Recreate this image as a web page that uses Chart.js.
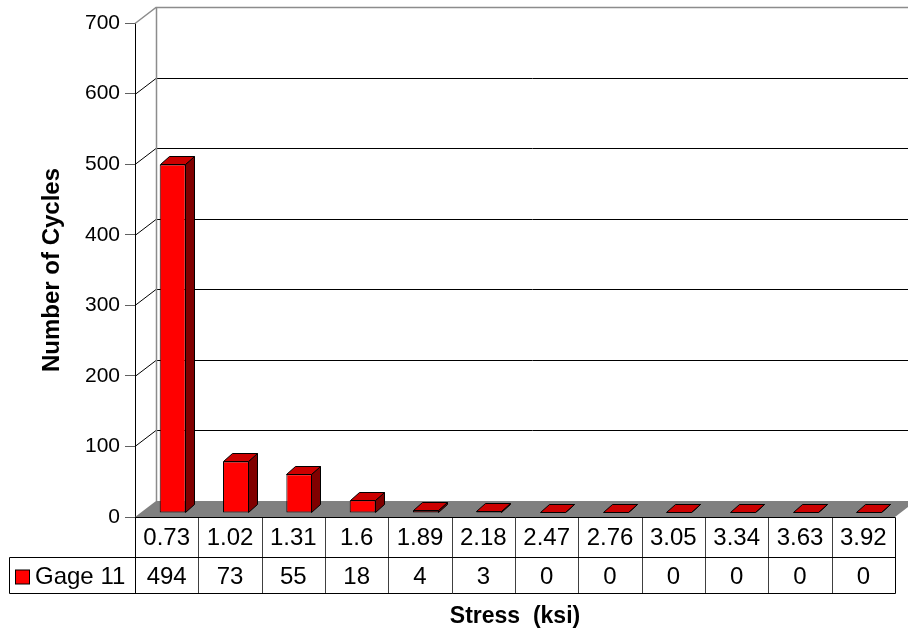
<!DOCTYPE html>
<html>
<head>
<meta charset="utf-8">
<script src="https://cdn.jsdelivr.net/npm/chart.js@4/dist/chart.umd.min.js"></script>
<style>
  html, body { margin: 0; padding: 0; background: #fff; }
  #wrap { width: 908px; height: 635px; position: relative; }
</style>
</head>
<body>
<div id="wrap"><canvas id="c" width="908" height="635"></canvas></div>
<script>
// Stress ranges (ksi) and cycle counts recorded by Gage 11
const stressLabels = ['0.73', '1.02', '1.31', '1.6', '1.89', '2.18', '2.47', '2.76', '3.05', '3.34', '3.63', '3.92'];
const gage11Cycles = [494, 73, 55, 18, 4, 3, 0, 0, 0, 0, 0, 0];
const seriesName = 'Gage 11';
const xTitle = 'Stress  (ksi)';
const yTitle = 'Number of Cycles';
const yMin = 0, yMax = 700, yStep = 100;

const FONT = "'Liberation Sans', Arial, sans-serif";

// 3-D box geometry (pixels)
const WALL_DX = 21, WALL_DY = -16;     // depth of the back wall behind the front axis
const BAR_DX = 6, BAR_DY = -4;         // columns stand this far back on the floor
const BAR_DEPTH_X = 9, BAR_DEPTH_Y = -8; // thickness of each column

// data-table geometry
const ROW1_H = 40, ROW2_H = 36, LEGEND_LEFT = 9;
const X_TITLE_Y = 617;

const box3d = {
  id: 'box3d',
  beforeDatasetsDraw(chart) {
    const { ctx, chartArea: a, scales: { y } } = chart;
    const y0 = y.getPixelForValue(yMin);
    const yTop = y.getPixelForValue(yMax);
    ctx.save();
    // gridlines on the back wall, joined to the front axis ticks
    y.ticks.forEach(t => {
      if (t.value === yMin) return;
      const py = Math.round(y.getPixelForValue(t.value)) + 0.5;
      const top = t.value === yMax;
      ctx.strokeStyle = top ? '#8c8c8c' : '#000';
      ctx.lineWidth = top ? 1.5 : 1;
      ctx.beginPath();
      ctx.moveTo(a.left, py);
      ctx.lineTo(a.left + WALL_DX, py + WALL_DY);
      ctx.lineTo(a.right + WALL_DX + 20, py + WALL_DY);
      ctx.stroke();
    });
    // left edge of the back wall
    ctx.strokeStyle = '#8c8c8c';
    ctx.lineWidth = 1.5;
    ctx.beginPath();
    ctx.moveTo(a.left + WALL_DX + 0.5, yTop + WALL_DY);
    ctx.lineTo(a.left + WALL_DX + 0.5, y0 + WALL_DY);
    ctx.stroke();
    // floor
    ctx.fillStyle = '#808080';
    ctx.beginPath();
    ctx.moveTo(a.left, y0);
    ctx.lineTo(a.right, y0);
    ctx.lineTo(a.right + WALL_DX, y0 + WALL_DY);
    ctx.lineTo(a.left + WALL_DX, y0 + WALL_DY);
    ctx.closePath();
    ctx.fill();
    ctx.restore();
    // columns are drawn set back onto the floor
    ctx.save();
    ctx.translate(BAR_DX, BAR_DY);
  },
  afterDatasetsDraw(chart) {
    const ctx = chart.ctx;
    ctx.lineWidth = 1;
    ctx.strokeStyle = '#000';
    chart.getDatasetMeta(0).data.forEach(bar => {
      const { x, y, base, width } = bar.getProps(['x', 'y', 'base', 'width'], true);
      const l = Math.round(x - width / 2) + 0.5, r = Math.round(x + width / 2) - 0.5;
      const t = Math.round(y) + 0.5, b = Math.round(base) - 0.5;
      const top = Math.min(t, b);
      // side face
      ctx.fillStyle = '#800000';
      ctx.beginPath();
      ctx.moveTo(r, top);
      ctx.lineTo(r + BAR_DEPTH_X, top + BAR_DEPTH_Y);
      ctx.lineTo(r + BAR_DEPTH_X, b + BAR_DEPTH_Y);
      ctx.lineTo(r, b);
      ctx.closePath();
      ctx.fill();
      ctx.stroke();
      // top face
      ctx.fillStyle = '#cc0000';
      ctx.beginPath();
      ctx.moveTo(l, top);
      ctx.lineTo(r, top);
      ctx.lineTo(r + BAR_DEPTH_X, top + BAR_DEPTH_Y);
      ctx.lineTo(l + BAR_DEPTH_X, top + BAR_DEPTH_Y);
      ctx.closePath();
      ctx.fill();
      ctx.stroke();
    });
    ctx.restore();
  },
  afterDraw(chart) {
    const { ctx, chartArea: a, scales: { x, y } } = chart;
    const n = stressLabels.length;
    const colW = (a.right - a.left) / n;
    const r1 = Math.round(y.getPixelForValue(yMin)) + 0.5;
    const r2 = r1 + ROW1_H, r3 = r2 + ROW2_H;
    const L = Math.round(a.left) + 0.5, R = Math.round(a.right) + 0.5;
    ctx.save();
    // inner column separators
    ctx.strokeStyle = '#404040';
    ctx.lineWidth = 1;
    for (let i = 1; i < n; i++) {
      const px = Math.round(x.getPixelForValue(i) - colW / 2) + 0.5;
      ctx.beginPath(); ctx.moveTo(px, r1); ctx.lineTo(px, r3); ctx.stroke();
    }
    // outer borders and row lines
    ctx.strokeStyle = '#000';
    ctx.beginPath();
    ctx.moveTo(L, r1); ctx.lineTo(R, r1);
    ctx.moveTo(LEGEND_LEFT + 0.5, r2); ctx.lineTo(R, r2);
    ctx.moveTo(LEGEND_LEFT + 0.5, r3); ctx.lineTo(R, r3);
    ctx.moveTo(L, r1); ctx.lineTo(L, r3);
    ctx.moveTo(R, r1); ctx.lineTo(R, r3);
    ctx.moveTo(LEGEND_LEFT + 0.5, r2); ctx.lineTo(LEGEND_LEFT + 0.5, r3);
    ctx.stroke();
    // cell text
    ctx.fillStyle = '#000';
    ctx.font = '24px ' + FONT;
    ctx.textAlign = 'center';
    ctx.textBaseline = 'middle';
    stressLabels.forEach((lab, i) => {
      const cx = x.getPixelForValue(i);
      ctx.fillText(lab, cx, r1 + ROW1_H / 2 + 1);
      ctx.fillText(String(gage11Cycles[i]), cx, r2 + ROW2_H / 2 + 2);
    });
    // legend key
    const ky = r2 + ROW2_H / 2 + 2;
    ctx.fillStyle = '#ff0000';
    ctx.fillRect(15.5, ky - 7.5, 14, 14);
    ctx.strokeRect(15.5, ky - 7.5, 14, 14);
    ctx.fillStyle = '#000';
    ctx.textAlign = 'left';
    ctx.fillText(seriesName, 35, ky);
    // category axis title, centred under the plot
    ctx.textAlign = 'center';
    ctx.font = 'bold 23px ' + FONT;
    ctx.fillText(xTitle, (a.left + a.right) / 2, X_TITLE_Y);
    ctx.restore();
  }
};

new Chart(document.getElementById('c'), {
  type: 'bar',
  data: {
    labels: stressLabels,
    datasets: [{
      label: seriesName,
      data: gage11Cycles,
      backgroundColor: '#ff0000',
      borderColor: '#000',
      borderWidth: 1,
      borderSkipped: false,
      categoryPercentage: 0.41,
      barPercentage: 1
    }]
  },
  options: {
    responsive: false,
    animation: false,
    devicePixelRatio: 1,
    layout: { padding: { top: 23, right: 13, bottom: 118, left: 0 } },
    plugins: {
      legend: { display: false },
      tooltip: { enabled: false }
    },
    scales: {
      x: { display: false },
      y: {
        min: yMin,
        max: yMax,
        afterFit(scale) { scale.width = 135; },
        ticks: {
          stepSize: yStep,
          color: '#000',
          padding: 5,
          font: { family: FONT, size: 21 }
        },
        grid: { drawOnChartArea: false, tickLength: 10, tickColor: '#606060' },
        border: { display: true, color: '#000', width: 1 },
        title: {
          display: true,
          text: yTitle,
          color: '#000',
          font: { family: FONT, size: 24, weight: 'bold' },
          padding: { top: 38, bottom: 0 }
        }
      }
    }
  },
  plugins: [box3d]
});
</script>
</body>
</html>
